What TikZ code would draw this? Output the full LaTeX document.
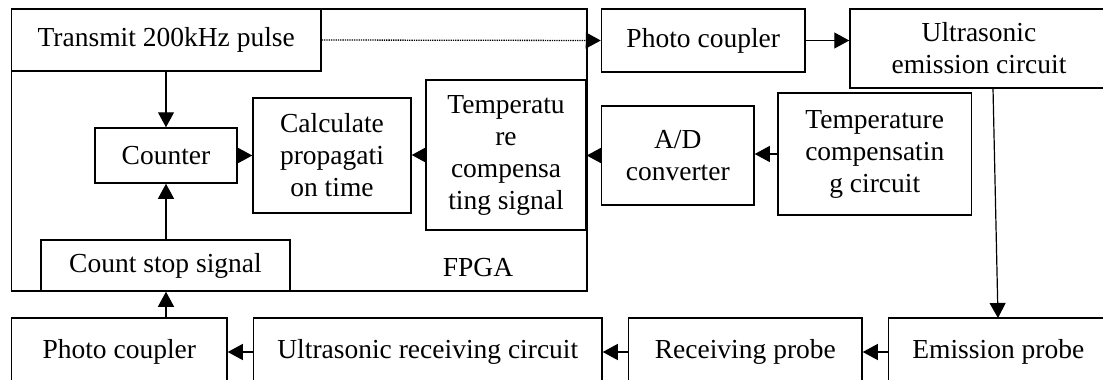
\documentclass[tikz,border=0pt]{standalone}
\usepackage{fontspec}
\setmainfont{Liberation Serif}
\usetikzlibrary{arrows.meta,positioning}
\tikzstyle{block}=[draw,line width=1.5pt,inner sep=0pt,align=center,font=\fontsize{27.5}{32}\selectfont]
\tikzstyle{link}=[line width=1.2pt,-{Triangle[length=15pt,width=16pt]}]

\begin{document}
\begin{tikzpicture}[x=1pt,y=-1pt]
\useasboundingbox (0,0) rectangle (1103,380);
% FPGA frame and its blocks
\node [block,minimum width=575.5pt,minimum height=282pt] (fpga) at (299.25,150) {};
\node [font=\fontsize{27.5}{32}\selectfont] (fpgalabel) at (478,268) {FPGA};
\node [block,minimum width=309.5pt,minimum height=62pt] (tx) at (166.25,40) {Transmit 200kHz pulse};
\node [block,minimum width=142pt,minimum height=55pt] (counter) at (166,155.5) {Counter};
\node [block,minimum width=158pt,minimum height=115pt] (calc) at (332,155.5) {Calculate\\propagati\\on time};
\node [block,minimum width=160pt,minimum height=150pt] (tsig) at (506,155) {Temperatu\\re\\compensa\\ting signal};
\node [block,minimum width=249pt,minimum height=51pt] (stop) at (165.5,265.5) {Count stop signal};
% outside blocks
\node [block,minimum width=203.5pt,minimum height=63pt] (pc1) at (703.25,40.5) {Photo coupler};
\node [block,minimum width=258pt,minimum height=79pt] (ue) at (979,48.5) {Ultrasonic\\emission circuit};
\node [block,minimum width=152.5pt,minimum height=99pt] (ad) at (677.75,155.5) {A/D\\converter};
\node [block,minimum width=193.5pt,minimum height=122pt] (tc) at (874.75,154) {Temperature\\compensatin\\g circuit};
% bottom row
\node [block,minimum width=215.4pt,minimum height=68pt] (pc2) at (119.3,352) {Photo coupler};
\node [block,minimum width=348.4pt,minimum height=68pt] (ur) at (427.8,352) {Ultrasonic receiving circuit};
\node [block,minimum width=233.3pt,minimum height=68pt] (rp) at (745.35,352) {Receiving probe};
\node [block,minimum width=219.4pt,minimum height=68pt] (ep) at (998.3,352) {Emission probe};
\coordinate (uetap) at (993,88);
\coordinate (eptap) at (998,318);
% connections
\draw [line width=1.3pt,densely dotted,-{Triangle[length=15pt,width=16pt]}] (tx.east) -- (pc1.west);
\draw [link] (pc1.east) -- (pc1.east -| ue.west);
\draw [link] (tx.south -| counter) -- (counter.north);
\draw [link] (stop.north -| counter) -- (counter.south);
\draw [link] (counter.east) -- (calc.west);
\draw [link] (tsig.west) -- (tsig.west -| calc.east);
\draw [link] (ad.west) -- (ad.west -| tsig.east);
\draw [link] (tc.west) -- (tc.west -| ad.east);
\draw [link] (uetap) -- (eptap);
\draw [link] (ep.west) -- (rp.east);
\draw [link] (rp.west) -- (ur.east);
\draw [link] (ur.west) -- (pc2.east);
\draw [link] (pc2.north -| counter) -- (stop.south -| counter);
\end{tikzpicture}
\end{document}
